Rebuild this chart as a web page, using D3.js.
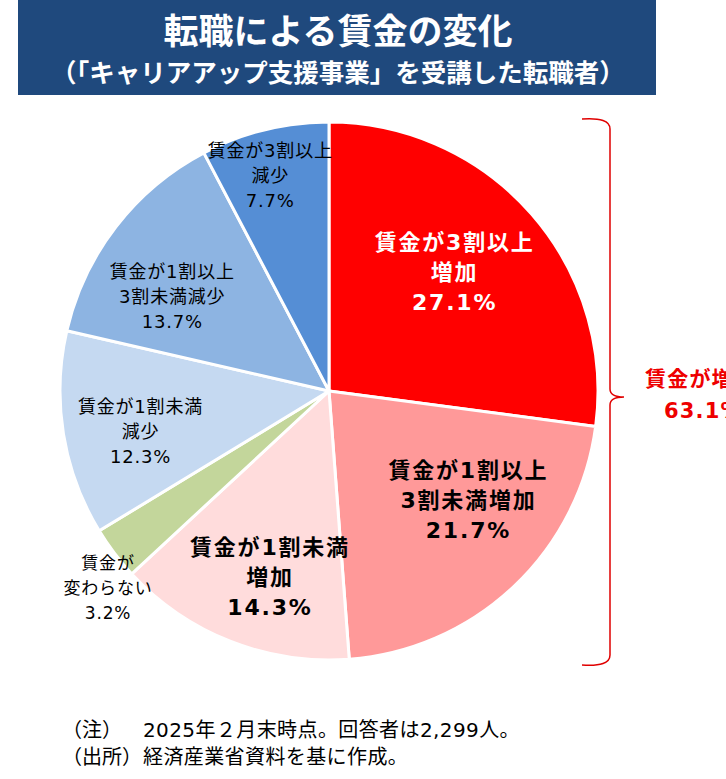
<!DOCTYPE html>
<html lang="ja">
<head>
<meta charset="UTF-8">
<title>転職による賃金の変化</title>
<style>
  html, body { margin: 0; background: #fff; overflow: hidden; }
  svg { display: block; font-family: "DejaVu Sans", "Noto Sans CJK JP", sans-serif; }
</style>
</head>
<body>
<svg id="svg"></svg>
<script src="https://d3js.org/d3.v7.min.js"></script>
<script>
// data
const categories = ['賃金が3割以上増加', '賃金が1割以上3割未満増加', '賃金が1割未満増加',
  '賃金が変わらない', '賃金が1割未満減少', '賃金が1割以上3割未満減少', '賃金が3割以上減少'];
const labelLines = [
  ['賃金が3割以上', '増加'],
  ['賃金が1割以上', '3割未満増加'],
  ['賃金が1割未満', '増加'],
  ['賃金が', '変わらない'],
  ['賃金が1割未満', '減少'],
  ['賃金が1割以上', '3割未満減少'],
  ['賃金が3割以上', '減少']
];
const values = [27.1, 21.7, 14.3, 3.2, 12.3, 13.7, 7.7];
const increaseLabel = ['賃金が増加', '63.1%'];
const titleLines = ['転職による賃金の変化', '（「キャリアアップ支援事業」を受講した転職者）'];
const notes = [['（注）', '2025年２月末時点。回答者は2,299人。'], ['（出所）', '経済産業省資料を基に作成。']];

// styles
const colors = ['#ff0000', '#ff9999', '#ffdcdc', '#c3d69b', '#c5d9f1', '#8db4e2', '#558ed5'];
const textColors = ['#fff', '#000', '#000', '#000', '#000', '#000', '#000'];
const bold = [true, true, true, false, false, false, false];
const labelRadius = [0.643, 0.658, 0.725, 1.10, 0.717, 0.68, 0.83];
const labelShift = [-2.2, -8.6, -3.8, -4.6, -3.0, -6.6, -1.4]; // degrees
const lineH = [30, 30, 30, 25, 25, 25, 25];
const fs = [22, 22, 22, 17, 18, 18, 18];

const width = 726, height = 779;
const svg = d3.select('#svg').attr('width', width).attr('height', height);

// title banner
svg.append('rect').attr('x', 18).attr('y', 0).attr('width', 638).attr('height', 95).attr('fill', '#1f497d');
svg.append('text').attr('x', 338).attr('y', 44).attr('text-anchor', 'middle')
  .attr('font-family', '"Noto Sans CJK JP"')
  .attr('fill', '#fff').attr('font-size', 35).attr('font-weight', 'bold').text(titleLines[0]);
svg.append('text').attr('x', 338).attr('y', 82).attr('text-anchor', 'middle')
  .attr('font-family', '"Noto Sans CJK JP"')
  .attr('fill', '#fff').attr('font-size', 25.5).attr('font-weight', 'bold').text(titleLines[1]);

// pie
const cx = 329, cy = 391, r = 269;
const g = svg.append('g').attr('transform', `translate(${cx},${cy})`);
const pie = d3.pie().sort(null).value(d => d);
const arcs = pie(values);
const arc = d3.arc().innerRadius(0).outerRadius(r);

g.selectAll('path.slice').data(arcs).join('path')
  .attr('class', 'slice')
  .attr('d', arc)
  .attr('fill', (d, i) => colors[i])
  .attr('stroke', '#fff')
  .attr('stroke-width', 3)
  .attr('stroke-linejoin', 'round');

arcs.forEach((d, i) => {
  const a = (d.startAngle + d.endAngle) / 2 + labelShift[i] * Math.PI / 180;
  const rr = r * labelRadius[i];
  const x = Math.sin(a) * rr, y = -Math.cos(a) * rr;
  const lines = labelLines[i].concat([d3.format('.1f')(values[i]) + '%']);
  const t = g.append('text')
    .attr('text-anchor', 'middle')
    .attr('fill', textColors[i])
    .attr('font-size', fs[i])
    .attr('letter-spacing', bold[i] ? 1.8 : 0.8)
    .attr('font-weight', bold[i] ? 'bold' : 'normal');
  lines.forEach((s, k) => {
    t.append('tspan').attr('x', x)
      .attr('y', y + (k - (lines.length - 1) / 2) * lineH[i] + fs[i] * 0.36)
      .text(s);
  });
});

// bracket for increase slices
const bTop = cy - r - 3, bBot = cy + r + 5, bMid = cy + 6;
const bx = 610, bx0 = 582, tip = 624;
const p = d3.path();
p.moveTo(bx0, bTop);
p.quadraticCurveTo(bx, bTop - 2, bx, bTop + 10);
p.lineTo(bx, bMid - 8);
p.quadraticCurveTo(bx, bMid, tip, bMid);
p.quadraticCurveTo(bx, bMid, bx, bMid + 8);
p.lineTo(bx, bBot - 10);
p.quadraticCurveTo(bx, bBot + 2, bx0, bBot);
svg.append('path').attr('d', p.toString()).attr('fill', 'none')
  .attr('stroke', '#e00000').attr('stroke-width', 1.5);

svg.append('text').attr('x', 645).attr('y', 386).attr('fill', '#ee0000')
  .attr('font-size', 21).attr('letter-spacing', 1.2).attr('font-weight', 'bold').text(increaseLabel[0]);
svg.append('text').attr('x', 664).attr('y', 418).attr('fill', '#ee0000')
  .attr('font-size', 21).attr('letter-spacing', 1.2).attr('font-weight', 'bold').text(increaseLabel[1]);

// notes
notes.forEach((n, i) => {
  svg.append('text').attr('x', 62).attr('y', 737 + i * 27).attr('font-size', 20).attr('fill', '#000').text(n[0]);
  svg.append('text').attr('x', 143).attr('y', 737 + i * 27).attr('font-size', 20)
    .attr('letter-spacing', 0.4).attr('fill', '#000').text(n[1]);
});
</script>
</body>
</html>
